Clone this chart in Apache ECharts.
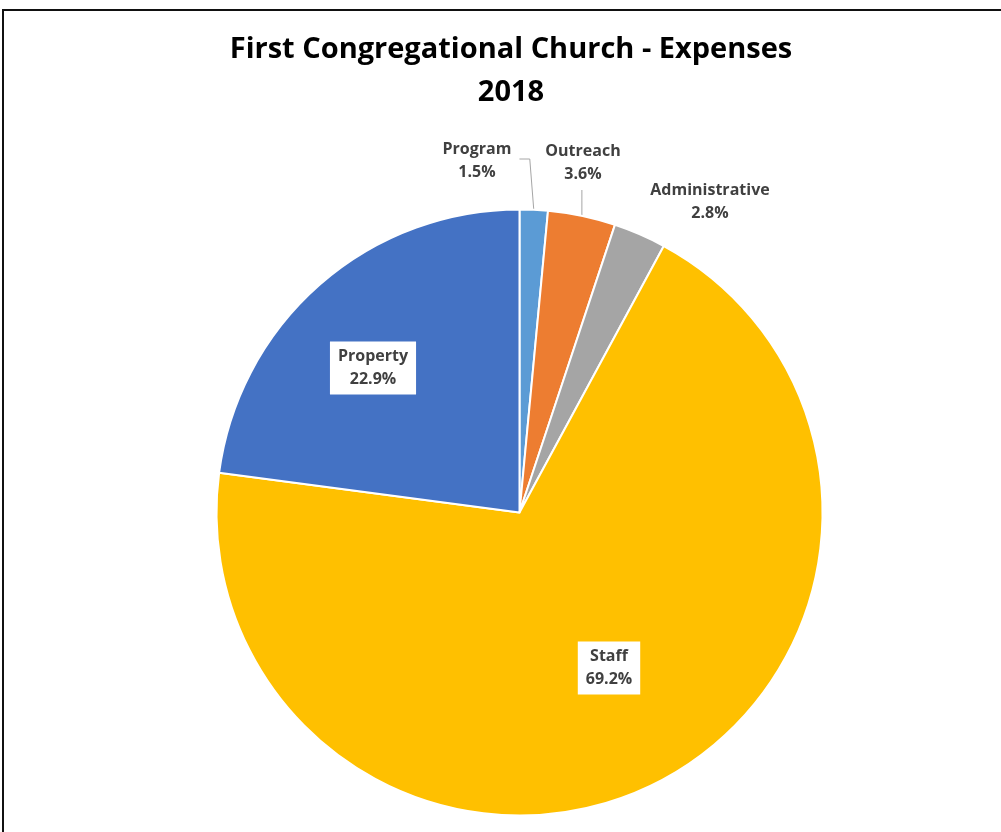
<!DOCTYPE html>
<html>
<head>
<meta charset="utf-8">
<script src="https://cdn.jsdelivr.net/npm/echarts@6/dist/echarts.min.js"></script>
<style>
html,body{margin:0;padding:0;background:#fff;}
#chart{width:1001px;height:832px;}
</style>
</head>
<body>
<div id="chart"></div>
<script>
const titleLines = ['First Congregational Church - Expenses', '2018'];
const categories = ['Program', 'Outreach', 'Administrative', 'Staff', 'Property'];
const values = [1.5, 3.6, 2.8, 69.2, 22.9];
const colors = ['#5B9BD5', '#ED7D31', '#A5A5A5', '#FFC000', '#4472C4'];

// label placement (style, not data)
const labelInside = [false, false, false, true, true];
const labelLineShow = [true, true, false, false, false];
const labelCenters = [[477, 161], [583, 163], [710, 202], [609, 668], [373, 368]];

const CENTER = [519.5, 512.5];
const RADIUS = 303;

// mid-angle edge point of each slice (clockwise from 12 o'clock)
const total = values.reduce((a, b) => a + b, 0);
const edgePoints = [];
(function () {
  let acc = 0;
  values.forEach(v => {
    const mid = (acc + v / 2) / total * Math.PI * 2;
    edgePoints.push([CENTER[0] + RADIUS * Math.sin(mid), CENTER[1] - RADIUS * Math.cos(mid)]);
    acc += v;
  });
})();

const chart = echarts.init(document.getElementById('chart'));

const data = categories.map((name, i) => ({
  name: name,
  value: values[i],
  itemStyle: { color: colors[i] },
  label: labelInside[i] ? {
    position: 'inside',
    backgroundColor: '#ffffff',
    padding: [4, 8, 3, 8]
  } : { position: 'outside' },
  labelLine: { show: labelLineShow[i] }
}));

chart.setOption({
  animation: false,
  backgroundColor: '#ffffff',
  graphic: [{
    type: 'rect',
    shape: { x: 3, y: 10, width: 1100, height: 900 },
    style: { fill: 'none', stroke: '#111111', lineWidth: 2 },
    silent: true
  }, {
    type: 'text',
    x: 511,
    y: 28,
    silent: true,
    style: {
      text: titleLines.join('\n'),
      align: 'center',
      verticalAlign: 'top',
      fontFamily: 'Open Sans',
      fontWeight: 'bold',
      fontSize: 29,
      lineHeight: 43,
      fill: '#000000'
    }
  }],
  series: [{
    type: 'pie',
    center: CENTER,
    radius: ['0%', RADIUS],
    startAngle: 90,
    clockwise: true,
    percentPrecision: 1,
    itemStyle: { borderColor: '#ffffff', borderWidth: 2 },
    label: {
      formatter: '{b}\n{d}%',
      fontFamily: 'Open Sans',
      fontWeight: 'bold',
      fontSize: 16,
      lineHeight: 23,
      color: '#404040',
      align: 'center'
    },
    labelLine: {
      show: true,
      length: 10,
      length2: 10,
      lineStyle: { color: '#A6A6A6', width: 1 }
    },
    labelLayout: function (params) {
      const i = params.dataIndex;
      const c = labelCenters[i];
      const r = params.labelRect;
      const out = { x: c[0], y: c[1], align: 'center', verticalAlign: 'middle' };
      const e = edgePoints[i];
      if (i === 0) {
        const right = c[0] + r.width / 2;
        const ly = c[1] - 2;
        out.labelLinePoints = [[e[0], e[1]], [e[0] - 4, ly], [right + 8, ly]];
      } else if (i === 1) {
        const bottom = c[1] + r.height / 2;
        out.labelLinePoints = [[e[0], e[1]], [e[0], (e[1] + bottom) / 2], [e[0], bottom + 4]];
      }
      return out;
    },
    data: data
  }]
});
</script>
</body>
</html>
